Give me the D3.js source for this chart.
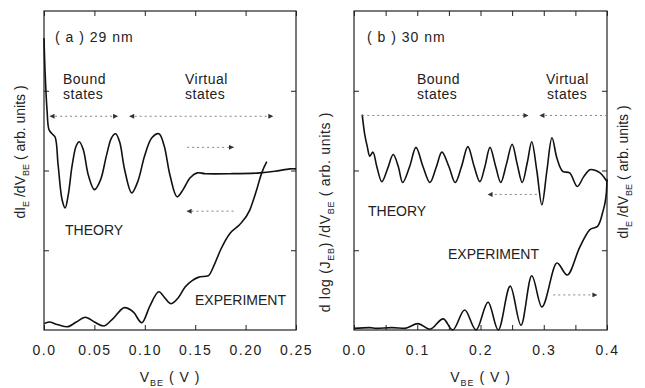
<!DOCTYPE html>
<meta charset="utf-8">
<body style="margin:0;background:#fff">
<div id="chart"></div>
<script src="https://d3js.org/d3.v7.min.js"></script>
<script>

// panel (a) 29 nm : [V_BE (V), arb. units]
var theoryA = [[0,3.66],[0.001,3.26],[0.003,2.76],[0.005,2.51],[0.008,2.46],[0.011,2.42],[0.014,2.07],
  [0.018,1.63],[0.021,1.53],[0.024,1.69],[0.028,2.07],[0.032,2.31],[0.035,2.36],[0.039,2.26],[0.044,1.94],
  [0.050,1.76],[0.056,1.88],[0.062,2.19],[0.067,2.41],[0.071,2.46],[0.075,2.36],[0.080,2.01],[0.087,1.72],
  [0.093,1.86],[0.100,2.19],[0.107,2.41],[0.114,2.46],[0.119,2.32],[0.125,1.94],[0.132,1.67],[0.138,1.76],
  [0.145,1.91],[0.152,1.97],[0.160,1.96],[0.185,1.96],[0.214,1.97],[0.229,1.99],[0.244,2.02],[0.25,2.02]];
var experimentA = [[0,0.08],[0.005,0.10],[0.013,0.07],[0.023,0.04],[0.032,0.10],[0.041,0.16],[0.050,0.10],
  [0.059,0.05],[0.069,0.15],[0.080,0.28],[0.089,0.22],[0.097,0.09],[0.105,0.30],[0.114,0.48],[0.120,0.40],
  [0.126,0.33],[0.133,0.40],[0.140,0.54],[0.147,0.62],[0.153,0.66],[0.163,0.68],[0.169,0.82],[0.175,1.00],
  [0.185,1.22],[0.194,1.32],[0.204,1.50],[0.211,1.76],[0.216,1.97],[0.221,2.11]];

// panel (b) 30 nm
var theoryB = [[0.013,2.70],[0.017,2.45],[0.021,2.30],[0.025,2.18],[0.030,2.23],[0.036,2.05],[0.044,1.86],
  [0.053,2.02],[0.062,2.20],[0.070,2.05],[0.077,1.85],[0.088,2.05],[0.098,2.29],[0.109,2.05],[0.120,1.85],
  [0.130,2.04],[0.139,2.23],[0.150,2.05],[0.160,1.85],[0.170,2.05],[0.180,2.30],[0.190,2.05],[0.199,1.86],
  [0.207,2.05],[0.215,2.29],[0.224,2.05],[0.232,1.85],[0.241,2.08],[0.250,2.33],[0.258,2.08],[0.266,1.85],
  [0.274,2.10],[0.281,2.36],[0.289,2.0],[0.297,1.57],[0.305,2.0],[0.313,2.41],[0.321,2.15],[0.330,1.99],
  [0.341,1.97],[0.353,1.80],[0.363,1.92],[0.373,2.01],[0.382,2.0],[0.389,1.97],[0.395,1.92],[0.4,1.86]];
var experimentB = [[0,0.02],[0.025,0.03],[0.035,0.02],[0.06,0.03],[0.08,0.02],[0.101,0.08],[0.120,0.01],
  [0.141,0.14],[0.156,0.0],[0.175,0.25],[0.193,0.0],[0.212,0.35],[0.228,0.0],[0.247,0.55],[0.264,0.06],
  [0.281,0.68],[0.297,0.29],[0.321,0.84],[0.337,0.69],[0.357,1.04],[0.373,1.26],[0.385,1.30],[0.393,1.47],
  [0.399,1.72],[0.4,1.89]];

var xTicksA = [0, 0.05, 0.1, 0.15, 0.2, 0.25];
var xLabelsA = ["0.0", "0.05", "0.10", "0.15", "0.20", "0.25"];
var xTicksB = [0, 0.05, 0.1, 0.15, 0.2, 0.25, 0.3, 0.35, 0.4];
var xLabelsB = ["0.0", "", "0.1", "", "0.2", "", "0.3", "", "0.4"];
var yTicks = [1, 2, 3];

// dotted arrows: [from, to, level, heads]
var arrowsA = [[0.006, 0.073, 2.68, "both"], [0.085, 0.227, 2.68, "both"],
  [0.142, 0.188, 2.29, "end"], [0.188, 0.142, 1.49, "end"]];
var arrowsB = [[0.013, 0.275, 2.69, "end"], [0.294, 0.4, 2.69, "start"],
  [0.289, 0.212, 1.70, "end"], [0.315, 0.384, 0.44, "end"]];

var W = 645, H = 388;
var font = "'Liberation Sans', Arial, sans-serif";

var svg = d3.select("#chart").append("svg")
    .attr("width", W)
    .attr("height", H)
    .style("font-family", font);

var defs = svg.append("defs");
defs.append("marker").attr("id", "head")
    .attr("viewBox", "0 0 10 10").attr("refX", 9).attr("refY", 5)
    .attr("markerWidth", 7).attr("markerHeight", 5).attr("markerUnits", "userSpaceOnUse")
    .attr("orient", "auto-start-reverse")
  .append("path").attr("d", "M0,0L10,5L0,10z").attr("fill", "#333");

var y = d3.scaleLinear().domain([0, 4]).range([330, 11]);

function panel(x, ticks, labels, theory, experiment, arrows) {
  var g = svg.append("g");
  var x0 = x.range()[0], x1 = x.range()[1];

  g.append("rect")
    .attr("x", x0).attr("y", y(4))
    .attr("width", x1 - x0).attr("height", y(0) - y(4))
    .attr("fill", "none").attr("stroke", "#222").attr("stroke-width", 1.2);

  var fmt = function(d, i) { return labels[i]; };
  var bottom = g.append("g").attr("transform", "translate(0," + y(0) + ")")
    .call(d3.axisBottom(x).tickValues(ticks).tickFormat(fmt).tickSize(-5).tickPadding(15));
  g.append("g").attr("transform", "translate(0," + y(4) + ")")
    .call(d3.axisTop(x).tickValues(ticks).tickFormat("").tickSize(-5));
  g.append("g").attr("transform", "translate(" + x0 + ",0)")
    .call(d3.axisLeft(y).tickValues(yTicks).tickFormat("").tickSize(-5));
  g.append("g").attr("transform", "translate(" + x1 + ",0)")
    .call(d3.axisRight(y).tickValues(yTicks).tickFormat("").tickSize(-5));
  g.selectAll(".domain").remove();
  g.selectAll(".tick line").attr("stroke", "#222").attr("stroke-width", 1);
  bottom.selectAll("text")
    .attr("font-family", font).attr("font-size", 14)
    .attr("letter-spacing", "1.5px").attr("fill", "#222");

  var smooth = d3.line()
    .x(function(d) { return x(d[0]); })
    .y(function(d) { return y(d[1]); })
    .curve(d3.curveCatmullRom.alpha(0.5));
  var mono = d3.line()
    .x(function(d) { return x(d[0]); })
    .y(function(d) { return y(d[1]); })
    .curve(d3.curveMonotoneX);

  g.append("path").datum(theory)
    .attr("d", smooth)
    .attr("fill", "none").attr("stroke", "#111")
    .attr("stroke-width", 1.6).attr("stroke-linejoin", "round");
  g.append("path").datum(experiment)
    .attr("d", mono)
    .attr("fill", "none").attr("stroke", "#111")
    .attr("stroke-width", 1.6).attr("stroke-linejoin", "round");

  arrows.forEach(function(a) {
    var p = g.append("line")
      .attr("x1", x(a[0])).attr("x2", x(a[1]))
      .attr("y1", y(a[2])).attr("y2", y(a[2]))
      .attr("stroke", "#777").attr("stroke-width", 0.9)
      .attr("stroke-dasharray", "2,3");
    if (a[3] == "end" || a[3] == "both") p.attr("marker-end", "url(#head)");
    if (a[3] == "start" || a[3] == "both") p.attr("marker-start", "url(#head)");
  });
  return g;
}

var xA = d3.scaleLinear().domain([0, 0.25]).range([44, 296]);
var xB = d3.scaleLinear().domain([0, 0.4]).range([354, 607]);

var gA = panel(xA, xTicksA, xLabelsA, theoryA, experimentA, arrowsA);
var gB = panel(xB, xTicksB, xLabelsB, theoryB, experimentB, arrowsB);

function label(g, txt, px, py) {
  return g.append("text").attr("x", px).attr("y", py)
    .attr("font-size", 14).attr("fill", "#222")
    .attr("letter-spacing", "0.5px").text(txt);
}

label(gA, "( a )  29 nm", 55, 42).attr("letter-spacing", "1px");
label(gA, "Bound", 63, 84);
label(gA, "states", 63, 99);
label(gA, "Virtual", 185, 84);
label(gA, "states", 185, 99);
label(gA, "THEORY", 65, 235).attr("letter-spacing", "0px");
label(gA, "EXPERIMENT", 195, 305).attr("letter-spacing", "0px");

label(gB, "( b )  30 nm", 367, 42).attr("letter-spacing", "1px");
label(gB, "Bound", 417, 84);
label(gB, "states", 417, 99);
label(gB, "Virtual", 546, 84);
label(gB, "states", 547, 99);
label(gB, "THEORY", 368, 216).attr("letter-spacing", "0px");
label(gB, "EXPERIMENT", 448, 259).attr("letter-spacing", "0px");

// axis titles with subscripts
function title(parts, px, py, rot, spacing) {
  var t = svg.append("text")
    .attr("transform", "translate(" + px + "," + py + ")" + (rot ? " rotate(-90)" : ""))
    .attr("text-anchor", "middle")
    .attr("letter-spacing", spacing || "0px")
    .attr("font-size", 14).attr("fill", "#222");
  parts.forEach(function(p) {
    if (p[1]) {
      t.append("tspan").attr("font-size", 9).attr("dy", 4).text(p[0]);
    } else {
      t.append("tspan").attr("dy", p[2] || 0).text(p[0]);
    }
  });
  return t;
}

var dIdV = [["dI"], ["E", true], [" /dV", false, -4], ["BE", true], [" ( arb. units )", false, -4]];
title([["V"], ["BE", true], [" ( V )", false, -4]], xA(0.125), 382, false, "1px");
title([["V"], ["BE", true], [" ( V )", false, -4]], xB(0.2), 382, false, "1px");
title(dIdV, 25, 152, true);
title([["d log (J"], ["EB", true], [")  /dV", false, -4], ["BE", true], [" ( arb. units )", false, -4]],
  330, 212, true, "0.7px");
title(dIdV, 628, 172, true);

</script>
</body>
